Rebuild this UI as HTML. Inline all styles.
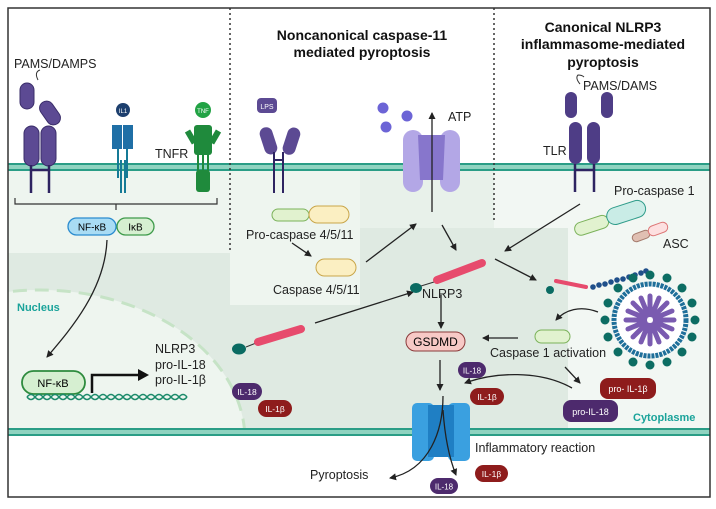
<!DOCTYPE html>
<html><head><meta charset="utf-8"><style>html,body{margin:0;padding:0;background:#fff;width:716px;height:509px;overflow:hidden}svg{display:block}text{font-family:"Liberation Sans",sans-serif}</style></head><body>
<svg width="716" height="509" viewBox="0 0 716 509" xmlns="http://www.w3.org/2000/svg">
<defs>
<marker id="a" markerWidth="8" markerHeight="8" refX="6" refY="4" orient="auto" markerUnits="userSpaceOnUse"><path d="M0,0.5 L7,4 L0,7.5 z" fill="#222"/></marker>
<clipPath id="cyto"><rect x="8" y="170" width="702" height="258"/></clipPath>
</defs>
<rect x="0" y="0" width="716" height="509" fill="#fff"/>
<rect x="8" y="168" width="702" height="262" fill="#dfeae2"/>
<rect x="8" y="168" width="222" height="85" fill="#eef5ef"/>
<rect x="230" y="168" width="130" height="137" fill="#eef5ef"/>
<rect x="360" y="168" width="134" height="60" fill="#e8f1ea"/>
<rect x="494" y="168" width="216" height="60" fill="#f2f7f3"/>
<rect x="568" y="228" width="142" height="200" fill="#f2f7f3"/>
<g clip-path="url(#cyto)">
<ellipse cx="40" cy="440" rx="205" ry="150" fill="#eef5ef" stroke="#c6e3c6" stroke-width="3" stroke-dasharray="14,8"/>
</g>
<rect x="8" y="163" width="702" height="8" fill="#8fd3c0"/>
<line x1="8" y1="164" x2="710" y2="164" stroke="#2a9d86" stroke-width="2"/>
<line x1="8" y1="170" x2="710" y2="170" stroke="#2a9d86" stroke-width="2"/>
<rect x="8" y="428" width="702" height="8" fill="#8fd3c0"/>
<line x1="8" y1="429" x2="710" y2="429" stroke="#2a9d86" stroke-width="2"/>
<line x1="8" y1="435" x2="710" y2="435" stroke="#2a9d86" stroke-width="2"/>
<rect x="8" y="8" width="702" height="489" fill="none" stroke="#333" stroke-width="1.5"/>
<line x1="230" y1="8" x2="230" y2="250" stroke="#333" stroke-width="1.5" stroke-dasharray="2,3"/>
<line x1="494" y1="8" x2="494" y2="220" stroke="#333" stroke-width="1.5" stroke-dasharray="2,3"/>
<g font-weight="bold" font-size="14" fill="#111" text-anchor="middle">
<text x="362" y="40">Noncanonical caspase-11</text><text x="362" y="57">mediated pyroptosis</text>
<text x="603" y="32">Canonical NLRP3</text><text x="603" y="49">inflammasome-mediated</text><text x="603" y="67">pyroptosis</text>
</g>
<g font-size="12.5" fill="#222">
<text x="14" y="68">PAMS/DAMPS</text><text x="155" y="158">TNFR</text><text x="448" y="121">ATP</text>
<text x="583" y="90">PAMS/DAMS</text><text x="543" y="155">TLR</text><text x="614" y="195">Pro-caspase 1</text><text x="663" y="248">ASC</text>
<text x="246" y="239">Pro-caspase 4/5/11</text><text x="273" y="294">Caspase 4/5/11</text><text x="422" y="298">NLRP3</text>
<text x="490" y="357">Caspase 1 activation</text><text x="475" y="452">Inflammatory reaction</text><text x="310" y="479">Pyroptosis</text>
<text x="155" y="353">NLRP3</text><text x="155" y="369">pro-IL-18</text><text x="155" y="384">pro-IL-1β</text>
</g>
<text x="17" y="311" font-weight="bold" font-size="11" fill="#1aa39a">Nucleus</text>
<text x="633" y="421" font-weight="bold" font-size="11" fill="#1aa39a">Cytoplasme</text>
<g fill="#5c4a93" stroke="#3a2d6a" stroke-width="1">
<path d="M38,80 q-4,-8 2,-10" fill="none" stroke="#333"/>
<rect x="20" y="83" width="14" height="26" rx="7"/>
<rect x="43" y="100" width="14" height="26" rx="7" transform="rotate(-35 50 113)"/>
<rect x="24" y="126" width="15" height="40" rx="7.5"/><rect x="41" y="126" width="15" height="40" rx="7.5"/>
</g>
<g stroke="#2e2461" stroke-width="2.5"><line x1="31" y1="165" x2="31" y2="193"/><line x1="49" y1="165" x2="49" y2="193"/><line x1="31" y1="170" x2="49" y2="170"/></g>
<circle cx="123" cy="110" r="7" fill="#1d3f6e"/><text x="123" y="113" font-size="6" fill="#fff" text-anchor="middle">IL1</text>
<g fill="#1f6fa6"><rect x="112" y="125" width="10" height="24"/><rect x="123" y="125" width="10" height="24"/></g>
<g stroke="#157a96" stroke-width="2"><line x1="118" y1="149" x2="118" y2="178"/><line x1="127" y1="149" x2="127" y2="178"/><line x1="121" y1="160" x2="121" y2="193"/><line x1="125" y1="160" x2="125" y2="193"/></g>
<circle cx="203" cy="110" r="8" fill="#22a345"/><text x="203" y="113" font-size="6" fill="#fff" text-anchor="middle">TNF</text>
<g fill="#1f8a3c"><rect x="194" y="125" width="18" height="30" rx="3"/><rect x="188" y="130" width="6" height="14" transform="rotate(-30 191 137)"/><rect x="212" y="130" width="6" height="14" transform="rotate(30 215 137)"/><rect x="196" y="170" width="14" height="22" rx="3"/></g>
<g stroke="#1f8a3c" stroke-width="2"><line x1="198" y1="155" x2="198" y2="172"/><line x1="203" y1="155" x2="203" y2="172"/><line x1="208" y1="155" x2="208" y2="172"/></g>
<path d="M15,198 v6 h202 v-6 M116,204 v6" fill="none" stroke="#333" stroke-width="1.2"/>
<rect x="68" y="218" width="48" height="17" rx="8.5" fill="#a9dcf4" stroke="#2b8ccf" stroke-width="1.3"/><text x="92" y="230.5" font-size="10" text-anchor="middle">NF-κB</text>
<rect x="117" y="218" width="37" height="17" rx="8.5" fill="#d6efd1" stroke="#3f9b4b" stroke-width="1.3"/><text x="135.5" y="230.5" font-size="10" text-anchor="middle">IκB</text>
<path d="M107,240 C105,290 70,330 47,357" fill="none" stroke="#222" stroke-width="1.3" marker-end="url(#a)"/>
<rect x="22" y="371" width="63" height="23" rx="11.5" fill="#d6efd1" stroke="#2e8b3e" stroke-width="1.8"/><text x="53" y="387" font-size="11" text-anchor="middle">NF-κB</text>
<path d="M27,397 q4,-5 8,0 t8,0 t8,0 t8,0 t8,0 t8,0 t8,0 t8,0 t8,0 t8,0 t8,0 t8,0 t8,0 t8,0 t8,0 t8,0 t8,0 t8,0 t8,0 t8,0" fill="none" stroke="#1b8a6a" stroke-width="1.5"/>
<path d="M27,397 q4,5 8,0 t8,0 t8,0 t8,0 t8,0 t8,0 t8,0 t8,0 t8,0 t8,0 t8,0 t8,0 t8,0 t8,0 t8,0 t8,0 t8,0 t8,0 t8,0 t8,0" fill="none" stroke="#1b8a6a" stroke-width="1.5"/>
<path d="M92,393 V375 H140" fill="none" stroke="#111" stroke-width="2.5"/><path d="M138,369 L149,375 L138,381z" fill="#111"/>
<ellipse cx="239" cy="349" rx="7" ry="5.5" fill="#0a6b62"/><line x1="246" y1="347" x2="256" y2="343" stroke="#333"/>
<line x1="258" y1="342" x2="301" y2="329" stroke="#e74b6d" stroke-width="8" stroke-linecap="round"/>
<line x1="315" y1="323" x2="413" y2="292" stroke="#222" stroke-width="1.3" marker-end="url(#a)"/>
<rect x="232" y="383" width="30" height="17" rx="8.5" fill="#4d2a6d"/><text x="247" y="395" font-size="8.5" fill="#fff" text-anchor="middle">IL-18</text>
<rect x="258" y="400" width="34" height="17" rx="8.5" fill="#8e1c1c"/><text x="275" y="412" font-size="8.5" fill="#fff" text-anchor="middle">IL-1β</text>
<rect x="257" y="98" width="20" height="15" rx="4" fill="#5c4a93"/><text x="267" y="109" font-size="7" fill="#fff" text-anchor="middle">LPS</text>
<g fill="#5c4a93"><rect x="262" y="127" width="13" height="28" rx="6.5" transform="rotate(-18 268 141)"/><rect x="285" y="127" width="13" height="28" rx="6.5" transform="rotate(18 291 141)"/></g>
<g stroke="#2e2461" stroke-width="2"><line x1="274" y1="152" x2="274" y2="193"/><line x1="283" y1="152" x2="283" y2="193"/><line x1="274" y1="160" x2="283" y2="160"/></g>
<rect x="272" y="209" width="37" height="12" rx="6" fill="#e1f2cf" stroke="#7bb25a"/>
<rect x="309" y="206" width="40" height="17" rx="8.5" fill="#fbefc2" stroke="#c9a64a"/>
<line x1="292" y1="243" x2="311" y2="256" stroke="#222" stroke-width="1.3" marker-end="url(#a)"/>
<rect x="316" y="259" width="40" height="17" rx="8.5" fill="#fbefc2" stroke="#c9a64a"/>
<line x1="366" y1="262" x2="416" y2="224" stroke="#222" stroke-width="1.3" marker-end="url(#a)"/>
<g fill="#6c64d6"><circle cx="383" cy="108" r="5.5"/><circle cx="407" cy="116" r="5.5"/><circle cx="386" cy="127" r="5.5"/></g>
<g fill="#b3a7e6"><rect x="403" y="130" width="20" height="62" rx="10"/><rect x="440" y="130" width="20" height="62" rx="10"/></g>
<path d="M418,135 L445,135 L443,180 L420,180z" fill="#8776cc"/>
<line x1="432" y1="212" x2="432" y2="113" stroke="#222" stroke-width="1.3" marker-end="url(#a)"/>
<line x1="442" y1="225" x2="456" y2="250" stroke="#222" stroke-width="1.3" marker-end="url(#a)"/>
<ellipse cx="416" cy="288" rx="6" ry="5" fill="#0a6b62"/><line x1="421" y1="286" x2="434" y2="282" stroke="#333"/>
<line x1="437" y1="280" x2="482" y2="263" stroke="#e74b6d" stroke-width="8" stroke-linecap="round"/>
<line x1="441" y1="295" x2="441" y2="328" stroke="#222" stroke-width="1.3" marker-end="url(#a)"/>
<rect x="406" y="332" width="59" height="19" rx="9.5" fill="#f7c9c6" stroke="#8a3a3a" stroke-width="1"/><text x="435.5" y="346" font-size="12" text-anchor="middle">GSDMD</text>
<line x1="440" y1="360" x2="440" y2="390" stroke="#222" stroke-width="1.3" marker-end="url(#a)"/>
<rect x="458" y="362" width="28" height="16" rx="8" fill="#4d2a6d"/><text x="472" y="373.5" font-size="8" fill="#fff" text-anchor="middle">IL-18</text>
<rect x="470" y="388" width="34" height="17" rx="8.5" fill="#8e1c1c"/><text x="487" y="400" font-size="8.5" fill="#fff" text-anchor="middle">IL-1β</text>
<path d="M572,388 C540,370 495,372 465,383" fill="none" stroke="#222" stroke-width="1.3" marker-end="url(#a)"/>
<path d="M580,84 q-5,-6 -2,-9 q4,0 6,2" fill="none" stroke="#333"/>
<g fill="#4e3d86"><rect x="565" y="92" width="12" height="26" rx="6"/><rect x="601" y="92" width="12" height="26" rx="6"/><rect x="569" y="122" width="13" height="42" rx="6.5"/><rect x="587" y="122" width="13" height="42" rx="6.5"/></g>
<g stroke="#2e2461" stroke-width="2.5"><line x1="575" y1="164" x2="575" y2="192"/><line x1="594" y1="164" x2="594" y2="192"/><line x1="575" y1="170" x2="594" y2="170"/></g>
<line x1="580" y1="204" x2="505" y2="251" stroke="#222" stroke-width="1.3" marker-end="url(#a)"/>
<rect x="574" y="219" width="35" height="13" rx="6.5" fill="#e1f2cf" stroke="#7bb25a" transform="rotate(-18 591 225)"/>
<rect x="606" y="204" width="40" height="17" rx="8.5" fill="#c9ece6" stroke="#2f9c8a" transform="rotate(-18 626 212)"/>
<rect x="632" y="232" width="18" height="8" rx="4" fill="#e0bfb2" stroke="#a47a6c" transform="rotate(-20 641 236)"/>
<rect x="648" y="224" width="20" height="10" rx="5" fill="#fde0e0" stroke="#d77" transform="rotate(-20 658 229)"/>
<line x1="495" y1="259" x2="536" y2="280" stroke="#222" stroke-width="1.3" marker-end="url(#a)"/>
<circle cx="550" cy="290" r="4" fill="#0a6b62"/><line x1="556" y1="281" x2="586" y2="287" stroke="#e74b6d" stroke-width="4" stroke-linecap="round"/>
<g fill="#1f4f8a"><circle cx="593" cy="287" r="2.8"/><circle cx="599" cy="285" r="2.8"/><circle cx="605" cy="284" r="2.8"/><circle cx="611" cy="282" r="2.8"/><circle cx="617" cy="280" r="2.8"/><circle cx="623" cy="279" r="2.8"/><circle cx="629" cy="277" r="2.8"/><circle cx="635" cy="275" r="2.8"/><circle cx="641" cy="273" r="2.8"/><circle cx="646" cy="271" r="2.8"/></g>
<g transform="translate(650,320)">
<circle r="36" fill="#fff" stroke="#1f6f9a" stroke-width="5" stroke-dasharray="3,1"/>
<g fill="#0d6d63">
<circle cx="0" cy="-45" r="4.5"/><circle cx="17" cy="-42" r="4.5"/><circle cx="32" cy="-32" r="4.5"/><circle cx="42" cy="-17" r="4.5"/><circle cx="45" cy="0" r="4.5"/><circle cx="42" cy="17" r="4.5"/><circle cx="32" cy="32" r="4.5"/><circle cx="17" cy="42" r="4.5"/><circle cx="0" cy="45" r="4.5"/><circle cx="-17" cy="42" r="4.5"/><circle cx="-32" cy="32" r="4.5"/><circle cx="-42" cy="17" r="4.5"/><circle cx="-45" cy="0" r="4.5"/><circle cx="-42" cy="-17" r="4.5"/><circle cx="-32" cy="-32" r="4.5"/><circle cx="-17" cy="-42" r="4.5"/>
</g>
<g stroke="#7a5bb0" stroke-width="5" stroke-linecap="round">
<line x1="0" y1="-5" x2="0" y2="-24"/><line x1="0" y1="5" x2="0" y2="24"/><line x1="-5" y1="0" x2="-24" y2="0"/><line x1="5" y1="0" x2="24" y2="0"/>
<line x1="4" y1="-4" x2="17" y2="-17"/><line x1="-4" y1="4" x2="-17" y2="17"/><line x1="4" y1="4" x2="17" y2="17"/><line x1="-4" y1="-4" x2="-17" y2="-17"/>
<line x1="2" y1="-5" x2="9" y2="-22"/><line x1="-2" y1="5" x2="-9" y2="22"/><line x1="5" y1="2" x2="22" y2="9"/><line x1="-5" y1="-2" x2="-22" y2="-9"/>
<line x1="-2" y1="-5" x2="-9" y2="-22"/><line x1="2" y1="5" x2="9" y2="22"/><line x1="5" y1="-2" x2="22" y2="-9"/><line x1="-5" y1="2" x2="-22" y2="9"/>
</g>
<circle r="3" fill="#fff"/>
</g>
<path d="M598,312 C580,305 565,310 556,320" fill="none" stroke="#222" stroke-width="1.3" marker-end="url(#a)"/>
<rect x="535" y="330" width="35" height="13" rx="6.5" fill="#e1f2cf" stroke="#7bb25a"/>
<line x1="518" y1="338" x2="483" y2="338" stroke="#222" stroke-width="1.3" marker-end="url(#a)"/>
<line x1="565" y1="367" x2="580" y2="383" stroke="#222" stroke-width="1.3" marker-end="url(#a)"/>
<rect x="600" y="378" width="56" height="21" rx="8" fill="#8e1c1c"/><text x="628" y="392" font-size="9" fill="#fff" text-anchor="middle">pro- IL-1β</text>
<rect x="563" y="400" width="55" height="22" rx="8" fill="#4d2a6d"/><text x="590.5" y="415" font-size="9" fill="#fff" text-anchor="middle">pro-IL-18</text>
<g fill="#3aa0e0"><rect x="412" y="403" width="22" height="58" rx="5"/><rect x="448" y="403" width="22" height="58" rx="5"/></g>
<rect x="428" y="405" width="26" height="52" fill="#1f7fc4"/>
<path d="M443,396 C443,430 430,470 390,478" fill="none" stroke="#222" stroke-width="1.3" marker-end="url(#a)"/>
<path d="M443,410 C445,440 450,460 456,475" fill="none" stroke="#222" stroke-width="1.3" marker-end="url(#a)"/>
<rect x="430" y="478" width="28" height="16" rx="8" fill="#4d2a6d"/><text x="444" y="489.5" font-size="8" fill="#fff" text-anchor="middle">IL-18</text>
<rect x="475" y="465" width="33" height="17" rx="8.5" fill="#8e1c1c"/><text x="491.5" y="477" font-size="8.5" fill="#fff" text-anchor="middle">IL-1β</text>
</svg>
</body></html>
